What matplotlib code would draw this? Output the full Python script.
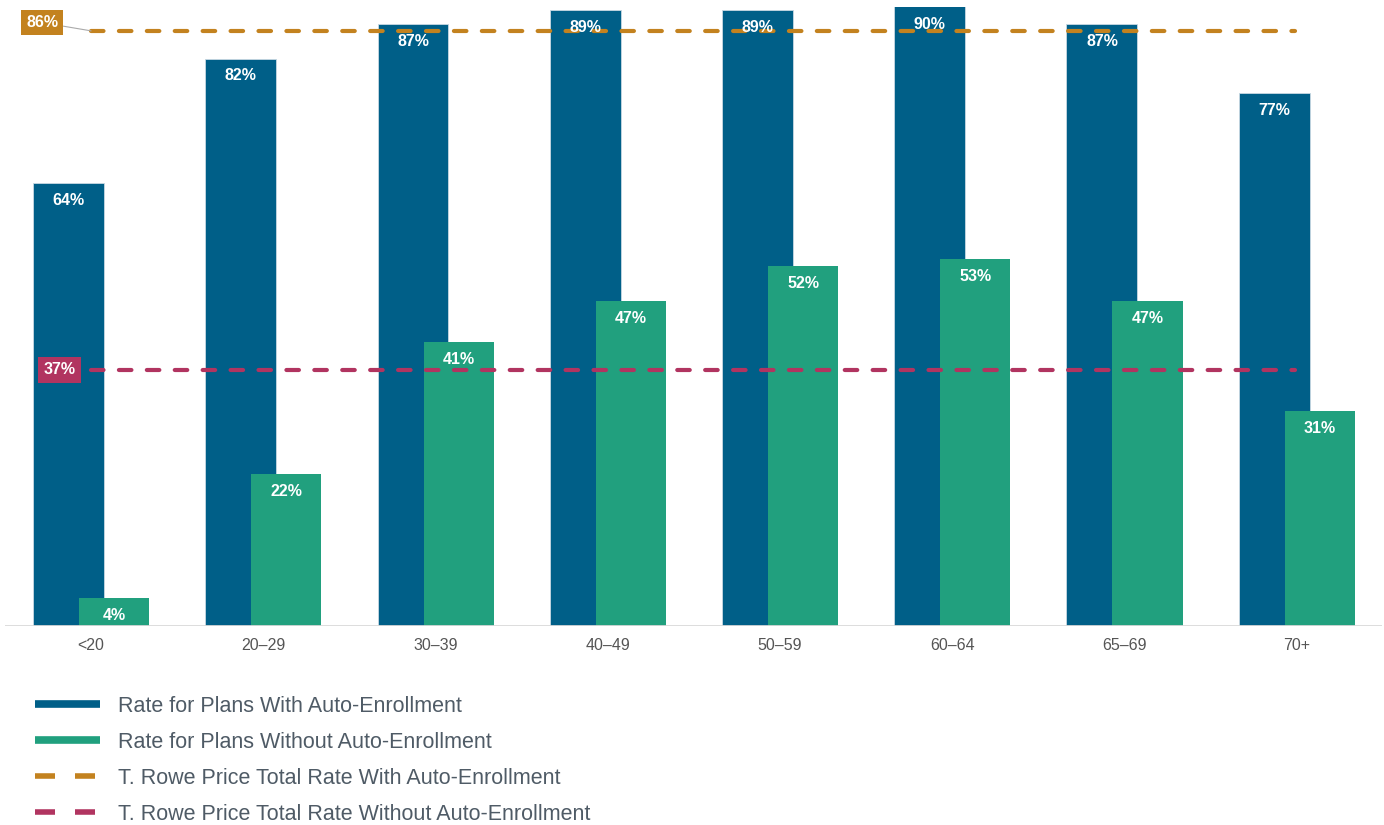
import matplotlib
matplotlib.use("Agg")
import matplotlib.pyplot as plt
from matplotlib.lines import Line2D

plt.rcParams['font.family'] = ['Liberation Sans', 'DejaVu Sans']

age_groups = ["<20", "20\u201329", "30\u201339", "40\u201349", "50\u201359", "60\u201364", "65\u201369", "70+"]
with_auto = [64, 82, 87, 89, 89, 90, 87, 77]
without_auto = [4, 22, 41, 47, 52, 53, 47, 31]
total_with = 86
total_without = 37

blue = "#005F88"
green = "#21A07E"
orange = "#C3821F"
crimson = "#B13460"
text_grey = "#4F5B66"

fig = plt.figure(figsize=(13.84, 8.25), dpi=100)
ax = fig.add_axes([5 / 1384, 199 / 825, 1377 / 1384, 619 / 825])

x = list(range(len(age_groups)))
bw = 0.412
ax.bar([i - 0.337 for i in x], with_auto, width=bw, align="edge", color=blue,
       edgecolor="#c9d9e3", linewidth=0.6, zorder=2)
ax.bar([i - 0.07 for i in x], without_auto, width=0.407, align="edge", color=green,
       edgecolor="none", zorder=3)

ytop = 89.45
for i, v in enumerate(with_auto):
    ax.annotate(f"{v}%", xy=(i - 0.337 + bw / 2, min(v, ytop)), xytext=(0, -12.5),
                textcoords="offset points", ha="center", va="center",
                color="white", fontsize=11.5, fontweight="bold", zorder=6)
for i, v in enumerate(without_auto):
    ax.annotate(f"{v}%", xy=(i - 0.07 + 0.407 / 2, v), xytext=(0, -12.5),
                textcoords="offset points", ha="center", va="center",
                color="white", fontsize=11.5, fontweight="bold", zorder=6)

# reference lines
ax.plot([0, 6.99], [total_with, total_with], color=orange, lw=3, dashes=(3.0, 3.7),
        dash_capstyle="round", zorder=5)
ax.plot([0, 6.99], [total_without, total_without], color=crimson, lw=3, dashes=(3.0, 3.7),
        dash_capstyle="round", zorder=5)

ax.annotate(f"{total_with}%", xy=(0, total_with), xytext=(-0.285, 87.2), textcoords="data",
            ha="center", va="center", color="white", fontsize=11.5, fontweight="bold",
            bbox=dict(boxstyle="square,pad=0.33", fc=orange, ec="none"),
            arrowprops=dict(arrowstyle="-", color="#aaaaaa", lw=0.8, shrinkA=0, shrinkB=0),
            zorder=7)
ax.text(-0.183, total_without, f"{total_without}%", ha="center", va="center",
        color="white", fontsize=11.5, fontweight="bold",
        bbox=dict(boxstyle="square,pad=0.33", fc=crimson, ec="none"), zorder=7)

ax.set_xlim(-0.5, 7.495)
ax.set_ylim(0, ytop)
ax.axhline(0, color="#d9d9d9", lw=2, zorder=4)
for s in ax.spines.values():
    s.set_visible(False)
ax.set_yticks([])
ax.set_xticks(x)
ax.set_xticklabels(age_groups, fontsize=11.5, color="#555555")
ax.tick_params(axis="x", length=0, pad=8.5)

handles = [
    Line2D([], [], color=blue, lw=5.5, solid_capstyle="butt"),
    Line2D([], [], color=green, lw=5.5, solid_capstyle="butt"),
    Line2D([], [], color=orange, lw=4, dashes=(3.6, 3.6), dash_capstyle="butt"),
    Line2D([], [], color=crimson, lw=4, dashes=(3.6, 3.6), dash_capstyle="butt"),
]
labels = [
    "Rate for Plans With Auto-Enrollment",
    "Rate for Plans Without Auto-Enrollment",
    "T. Rowe Price Total Rate With Auto-Enrollment",
    "T. Rowe Price Total Rate Without Auto-Enrollment",
]
leg = fig.legend(handles, labels, loc="upper left", bbox_to_anchor=(35 / 1384, 1 - 696 / 825),
                 frameon=False, fontsize=15.5, handlelength=3.0, handletextpad=0.87,
                 labelspacing=0.69, borderpad=0, borderaxespad=0)
for t in leg.get_texts():
    t.set_color(text_grey)

fig.savefig("out.png", dpi=100)
